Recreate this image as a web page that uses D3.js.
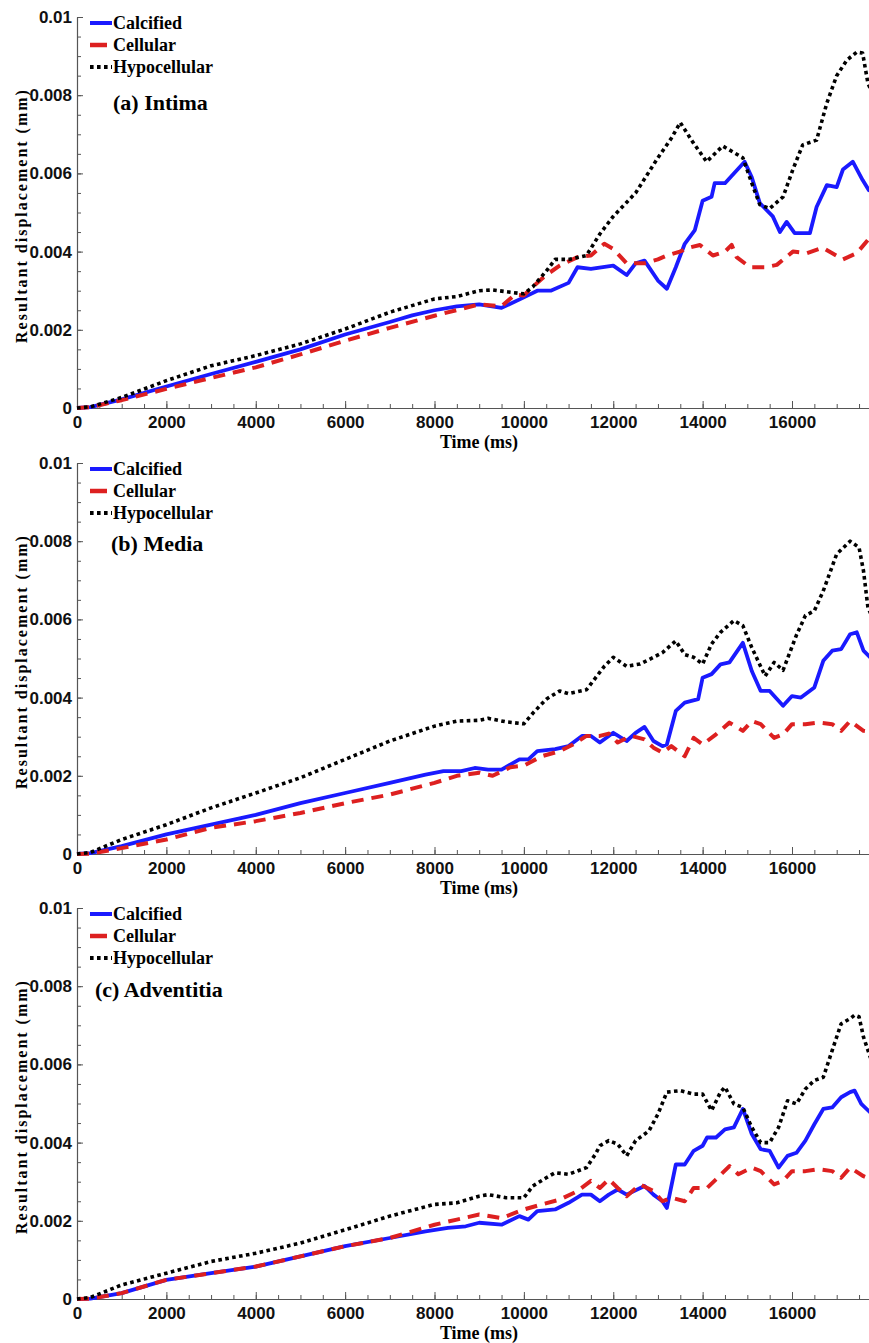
<!DOCTYPE html>
<html>
<head>
<meta charset="utf-8">
<script src="https://cdn.jsdelivr.net/npm/d3@7"></script>
<style>
  body { margin: 0; background: #fff; }
  svg { display: block; font-family: "Liberation Serif", "Times New Roman", serif; }
  .axis path, .axis line { stroke: #555; }
  .axis text { font-weight: bold; font-size: 17px; fill: #111; }
</style>
</head>
<body>
<script>
// Chart data: [time (ms), resultant displacement (mm)]
var panelNames = ["(a) Intima", "(b) Media", "(c) Adventitia"];
var seriesNames = ["Calcified", "Cellular", "Hypocellular"];

var intimaCalcified = [[0,0],[300,0.00002],[1000,0.00022],[2000,0.00055],[3000,0.00087],[4000,0.00118],[5000,0.0015],[6000,0.00188],[7000,0.0022],[7500,0.00237],[8000,0.0025],[8500,0.0026],[9000,0.00265],[9500,0.00256],[10000,0.00283],[10300,0.003],[10600,0.003],[11000,0.0032],[11200,0.0036],[11500,0.00356],[12000,0.00364],[12300,0.0034],[12500,0.0037],[12700,0.00377],[13000,0.00326],[13200,0.00305],[13400,0.0036],[13600,0.0042],[13826,0.00455],[14000,0.0053],[14200,0.0054],[14270,0.00575],[14500,0.00575],[14940,0.0063],[15100,0.0059],[15280,0.00524],[15570,0.0049],[15730,0.0045],[15880,0.00476],[16060,0.00447],[16400,0.00447],[16550,0.00514],[16780,0.0057],[17000,0.00565],[17140,0.0061],[17360,0.0063],[17580,0.00583],[17720,0.00557],[17900,0.0055]];
var intimaCellular = [[0,0],[300,0.00002],[1000,0.0002],[2000,0.00049],[3000,0.00077],[4000,0.00104],[5000,0.00137],[6000,0.00172],[7000,0.00205],[8000,0.00236],[9000,0.00265],[9500,0.0026],[9800,0.0029],[10000,0.00288],[10200,0.0031],[10500,0.0034],[10800,0.00364],[11200,0.00386],[11500,0.0039],[11800,0.0042],[12000,0.00407],[12300,0.0037],[12700,0.0037],[13000,0.0038],[13200,0.0039],[13490,0.004],[13700,0.0041],[13940,0.00417],[14230,0.0039],[14500,0.004],[14650,0.00417],[14760,0.00386],[15060,0.0036],[15400,0.0036],[15660,0.00366],[16020,0.004],[16330,0.00396],[16690,0.0041],[17140,0.0038],[17450,0.00396],[17700,0.0043],[17900,0.0044]];
var intimaHypocellular = [[0,0],[300,0.00003],[1000,0.00027],[2000,0.0007],[3000,0.00108],[4000,0.00134],[5000,0.00164],[6000,0.00202],[7000,0.00245],[8000,0.00279],[8500,0.00285],[9000,0.003],[9300,0.00302],[9700,0.00296],[10000,0.00292],[10200,0.0031],[10500,0.0035],[10700,0.0038],[11000,0.0038],[11400,0.0039],[11700,0.00445],[12000,0.0049],[12500,0.0055],[13000,0.0064],[13300,0.0069],[13500,0.0073],[13780,0.0068],[14090,0.0063],[14450,0.0067],[14900,0.0064],[15100,0.00575],[15280,0.0052],[15500,0.0051],[15800,0.0054],[16020,0.0061],[16240,0.00673],[16550,0.00685],[16780,0.0078],[17000,0.0085],[17230,0.0089],[17450,0.0091],[17580,0.00908],[17700,0.0083],[17900,0.0078]];

var mediaCalcified = [[0,0],[300,0.00002],[1000,0.0002],[2000,0.0005],[3000,0.00075],[4000,0.001],[5000,0.0013],[6000,0.00156],[7000,0.00182],[7800,0.00203],[8200,0.00212],[8600,0.00212],[8900,0.0022],[9200,0.00216],[9500,0.00216],[9900,0.00242],[10100,0.00242],[10300,0.00263],[10700,0.00268],[11000,0.00276],[11300,0.00302],[11500,0.00302],[11700,0.00285],[12000,0.0031],[12300,0.00289],[12500,0.0031],[12700,0.00325],[12900,0.00289],[13100,0.00276],[13200,0.0028],[13400,0.00366],[13600,0.00387],[13900,0.00396],[14000,0.00451],[14200,0.0046],[14400,0.00485],[14600,0.0049],[14900,0.0054],[15100,0.00468],[15300,0.00417],[15500,0.00417],[15800,0.00379],[16000,0.00404],[16200,0.004],[16500,0.00426],[16700,0.00494],[16900,0.0052],[17100,0.00524],[17300,0.00562],[17450,0.00567],[17600,0.0052],[17750,0.00503],[17900,0.005]];
var mediaCellular = [[0,0],[300,0.00001],[1000,0.00015],[2000,0.00037],[3000,0.00067],[4000,0.00084],[5000,0.00105],[6000,0.0013],[7000,0.00152],[8000,0.00182],[8500,0.002],[9000,0.00208],[9300,0.002],[9700,0.00222],[10000,0.00226],[10400,0.0025],[10800,0.00263],[11100,0.0028],[11400,0.00302],[11700,0.00302],[11900,0.00308],[12100,0.00285],[12400,0.00302],[12700,0.00293],[12900,0.00272],[13100,0.00259],[13300,0.00276],[13600,0.0025],[13800,0.00297],[14000,0.0028],[14300,0.00306],[14600,0.00336],[14900,0.00315],[15100,0.0034],[15300,0.00332],[15600,0.00297],[15800,0.00306],[16000,0.00332],[16300,0.00332],[16600,0.00336],[16900,0.00332],[17100,0.00315],[17300,0.0034],[17600,0.00315],[17900,0.0031]];
var mediaHypocellular = [[0,0],[300,0.00004],[1000,0.00037],[2000,0.00075],[3000,0.00118],[4000,0.00156],[5000,0.00195],[6000,0.00242],[7000,0.00289],[8000,0.00327],[8500,0.0034],[9000,0.00342],[9200,0.00347],[9600,0.00338],[10000,0.00333],[10200,0.0036],[10500,0.00396],[10800,0.00417],[11000,0.0041],[11400,0.0042],[11600,0.0045],[11800,0.0048],[12000,0.00503],[12300,0.0048],[12600,0.00486],[12900,0.00503],[13100,0.00515],[13400,0.00545],[13600,0.0051],[13800,0.00503],[14000,0.00486],[14200,0.00537],[14400,0.00567],[14700,0.00597],[14900,0.00584],[15100,0.00528],[15400,0.00455],[15600,0.0049],[15800,0.0047],[16100,0.0056],[16300,0.0061],[16500,0.00622],[16700,0.00673],[17000,0.00767],[17300,0.008],[17500,0.00784],[17600,0.00724],[17700,0.0063],[17900,0.0058]];

var adventitiaCalcified = [[0,0],[300,0.00001],[1000,0.00015],[2000,0.00049],[3000,0.00066],[4000,0.00083],[5000,0.00109],[6000,0.00135],[7000,0.00156],[7800,0.00173],[8300,0.00182],[8700,0.00186],[9000,0.00195],[9500,0.0019],[9900,0.00212],[10100,0.00203],[10300,0.00225],[10700,0.00229],[11000,0.00246],[11300,0.00267],[11500,0.00267],[11700,0.0025],[11900,0.00267],[12100,0.0028],[12300,0.00267],[12700,0.00289],[12900,0.00267],[13100,0.0025],[13200,0.00233],[13400,0.00344],[13600,0.00344],[13800,0.00379],[14000,0.00392],[14100,0.00413],[14300,0.00413],[14500,0.00434],[14700,0.00439],[14900,0.00486],[15100,0.00422],[15300,0.00383],[15500,0.00379],[15700,0.00336],[15900,0.00366],[16100,0.00374],[16300,0.00405],[16500,0.00447],[16700,0.00486],[16900,0.0049],[17100,0.00516],[17300,0.00529],[17400,0.00533],[17550,0.00499],[17750,0.00477],[17900,0.0047]];
var adventitiaCellular = [[0,0],[300,0.00001],[1000,0.00015],[2000,0.00049],[3000,0.00066],[4000,0.00083],[5000,0.00109],[6000,0.00135],[7000,0.00156],[8000,0.0019],[8500,0.00203],[9000,0.00216],[9500,0.00207],[10000,0.00229],[10400,0.00242],[10800,0.00254],[11200,0.00276],[11500,0.00302],[11700,0.00284],[11900,0.00306],[12100,0.00284],[12300,0.00263],[12600,0.00293],[12900,0.00276],[13100,0.0025],[13300,0.00259],[13600,0.0025],[13800,0.00284],[14100,0.00284],[14300,0.00306],[14600,0.0034],[14800,0.00319],[15100,0.00336],[15300,0.00327],[15600,0.00293],[15800,0.00302],[16000,0.00327],[16300,0.00327],[16600,0.00332],[16900,0.00327],[17100,0.0031],[17300,0.00336],[17600,0.00314],[17900,0.003]];
var adventitiaHypocellular = [[0,0],[300,0.00004],[1000,0.00036],[2000,0.00066],[3000,0.00096],[4000,0.00117],[5000,0.00143],[6000,0.00177],[7000,0.00212],[8000,0.00242],[8500,0.00246],[9000,0.00263],[9200,0.00267],[9600,0.00259],[10000,0.00259],[10200,0.00289],[10500,0.0031],[10700,0.00323],[11000,0.00319],[11400,0.00336],[11600,0.0037],[11700,0.00392],[11900,0.00405],[12100,0.00396],[12300,0.00366],[12500,0.00405],[12800,0.0043],[13000,0.00473],[13200,0.00529],[13500,0.00533],[13800,0.00524],[14000,0.00524],[14200,0.00482],[14400,0.00529],[14500,0.00542],[14700,0.00499],[14900,0.0049],[15100,0.00439],[15300,0.004],[15500,0.004],[15700,0.00439],[15900,0.00507],[16100,0.00499],[16300,0.00537],[16500,0.00559],[16700,0.00567],[16900,0.00636],[17100,0.00704],[17300,0.00717],[17400,0.00726],[17500,0.00722],[17600,0.0067],[17750,0.00619],[17900,0.0058]];

var xTickLabels = [0, 2000, 4000, 6000, 8000, 10000, 12000, 14000, 16000];
var yTickLabels = [0, 0.002, 0.004, 0.006, 0.008, 0.01];

var panels = [
  [intimaCalcified, intimaCellular, intimaHypocellular],
  [mediaCalcified, mediaCellular, mediaHypocellular],
  [adventitiaCalcified, adventitiaCellular, adventitiaHypocellular]
];

// Layout
var svgWidth = 869;
var svgHeight = 1343;
var panelTops = [17, 463, 908];
var plotHeight = 391;
var plotLeft = 77;
var pxPerMs = (792 - 77) / 16000;
var titlePos = [[113, 110], [111, 551], [95, 997]];

var styles = [
  { color: "#1a1aff", width: 3.8, dash: null },
  { color: "#dd2020", width: 4, dash: "12,8" },
  { color: "#000", width: 3.6, dash: "3.6,3.4" }
];

var svg = d3.select("body")
  .append("svg")
  .attr("width", svgWidth)
  .attr("height", svgHeight);

var x = d3.scaleLinear()
  .domain([0, 20000])
  .range([plotLeft, plotLeft + 20000 * pxPerMs]);

panels.forEach(function(series, p) {
  var top = panelTops[p];
  var y = d3.scaleLinear()
    .domain([0, 0.01])
    .range([top + plotHeight, top]);

  var g = svg.append("g");

  // minor ticks
  g.append("g")
    .attr("class", "axis")
    .attr("transform", `translate(0, ${top + plotHeight})`)
    .call(d3.axisBottom(x).tickValues(d3.range(0, 20001, 500)).tickSizeInner(-4).tickSizeOuter(0).tickFormat(""));
  g.append("g")
    .attr("class", "axis")
    .attr("transform", `translate(${plotLeft}, 0)`)
    .call(d3.axisLeft(y).tickValues(d3.range(0, 21).map(d => d * 0.0005)).tickSizeInner(-4).tickSizeOuter(0).tickFormat(""));

  // major ticks with labels
  var xAxis = g.append("g")
    .attr("class", "axis")
    .attr("transform", `translate(0, ${top + plotHeight})`)
    .call(d3.axisBottom(x).tickValues(xTickLabels).tickSizeInner(-7).tickSizeOuter(0).tickPadding(8).tickFormat(d => String(d)));
  var yAxis = g.append("g")
    .attr("class", "axis")
    .attr("transform", `translate(${plotLeft}, 0)`)
    .call(d3.axisLeft(y).tickValues(yTickLabels).tickSizeInner(-6).tickSizeOuter(0).tickPadding(5).tickFormat(d => String(d)));
  yAxis.select(".domain").attr("stroke-width", 1.2);
  xAxis.select(".domain").attr("stroke-width", 1.2);

  // lines
  var line = d3.line()
    .x(d => x(d[0]))
    .y(d => y(d[1]));

  series.forEach(function(data, i) {
    g.append("path")
      .datum(data)
      .attr("fill", "none")
      .attr("stroke", styles[i].color)
      .attr("stroke-width", styles[i].width)
      .attr("stroke-dasharray", styles[i].dash)
      .attr("stroke-linejoin", "round")
      .attr("d", line);
  });

  // legend
  seriesNames.forEach(function(name, i) {
    var by = top + 12 + i * 22;
    g.append("line")
      .attr("x1", 90).attr("x2", i == 1 ? 107 : 112)
      .attr("y1", by - 6).attr("y2", by - 6)
      .attr("stroke", styles[i].color)
      .attr("stroke-width", i == 1 ? 4.5 : 4)
      .attr("stroke-dasharray", i == 2 ? "3.6,3.4" : null);
    g.append("text")
      .attr("x", 113).attr("y", by)
      .attr("font-size", 18).attr("font-weight", "bold")
      .text(name);
  });

  g.append("text")
    .attr("x", titlePos[p][0]).attr("y", titlePos[p][1])
    .attr("font-size", 22).attr("font-weight", "bold")
    .text(panelNames[p]);

  // axis titles
  g.append("text")
    .attr("text-anchor", "middle")
    .attr("transform", `translate(27, ${top + plotHeight / 2 + 3})rotate(-90)`)
    .attr("font-size", 16).attr("font-weight", "bold")
    .attr("letter-spacing", 2)
    .text("Resultant displacement (mm)");

  g.append("text")
    .attr("text-anchor", "middle")
    .attr("x", 479).attr("y", top + plotHeight + 40)
    .attr("font-size", 18).attr("font-weight", "bold")
    .text("Time (ms)");
});
</script>
</body>
</html>
